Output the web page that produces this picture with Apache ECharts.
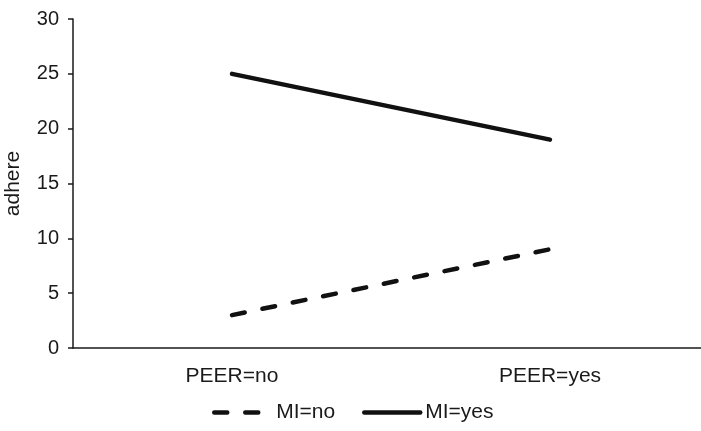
<!DOCTYPE html>
<html>
<head>
<meta charset="utf-8">
<script src="https://cdn.jsdelivr.net/npm/echarts@6/dist/echarts.min.js"></script>
<style>
  html, body { margin: 0; padding: 0; background: #fff; }
  #chart { width: 701px; height: 431px; }
</style>
</head>
<body>
<div id="chart"></div>
<script>
// Interaction plot: mean adherence by peer support, split by MI
const categories = ['PEER=no', 'PEER=yes'];
const miNo = [3, 9];
const miYes = [25, 19];
const yTicks = { min: 0, max: 30, interval: 5 };

const FONT = '"Liberation Sans", Arial, sans-serif';
const INK = '#1a1a1a';
const DASH = [13, 18];

const chart = echarts.init(document.getElementById('chart'), null, { renderer: 'canvas' });

chart.setOption({
  animation: false,
  backgroundColor: '#fff',
  textStyle: { fontFamily: FONT },
  grid: { left: 73, top: 19, bottom: 83, width: 636, outerBoundsMode: 'none' },
  xAxis: {
    type: 'category',
    data: categories,
    boundaryGap: true,
    axisLine: { lineStyle: { color: INK, width: 1.5 } },
    axisTick: { show: false },
    axisLabel: { color: INK, fontSize: 21, fontFamily: FONT, margin: 18 }
  },
  yAxis: {
    type: 'value',
    min: yTicks.min,
    max: yTicks.max,
    interval: yTicks.interval,
    name: 'adhere',
    nameLocation: 'middle',
    nameGap: 49,
    nameRotate: 90,
    nameTextStyle: { color: INK, fontSize: 21, fontFamily: FONT },
    splitLine: { show: false },
    axisLine: { show: true, lineStyle: { color: INK, width: 1.5 } },
    axisTick: { show: true, length: 5, lineStyle: { color: INK, width: 1.5 } },
    axisLabel: { color: INK, fontSize: 20, fontFamily: FONT, margin: 14 }
  },
  legend: [
    {
      data: ['MI=no'],
      left: 207,
      top: 397,
      itemWidth: 50,
      itemHeight: 20,
      itemStyle: { opacity: 0 },
      lineStyle: { width: 4.5, type: DASH, cap: 'round', color: '#111' },
      textStyle: { color: INK, fontSize: 21, fontFamily: FONT, padding: [0, 0, 0, 7] }
    },
    {
      data: ['MI=yes'],
      left: 357,
      top: 397,
      itemWidth: 56,
      itemHeight: 20,
      itemStyle: { opacity: 0 },
      lineStyle: { width: 4.5, cap: 'round', color: '#111' },
      textStyle: { color: INK, fontSize: 21, fontFamily: FONT }
    }
  ],
  series: [
    {
      name: 'MI=no',
      type: 'line',
      data: miNo,
      symbol: 'none',
      color: '#111',
      lineStyle: { color: '#111', width: 4.5, type: DASH, cap: 'round' }
    },
    {
      name: 'MI=yes',
      type: 'line',
      data: miYes,
      symbol: 'none',
      color: '#111',
      lineStyle: { color: '#111', width: 4.5, cap: 'round' }
    }
  ]
});
</script>
</body>
</html>
